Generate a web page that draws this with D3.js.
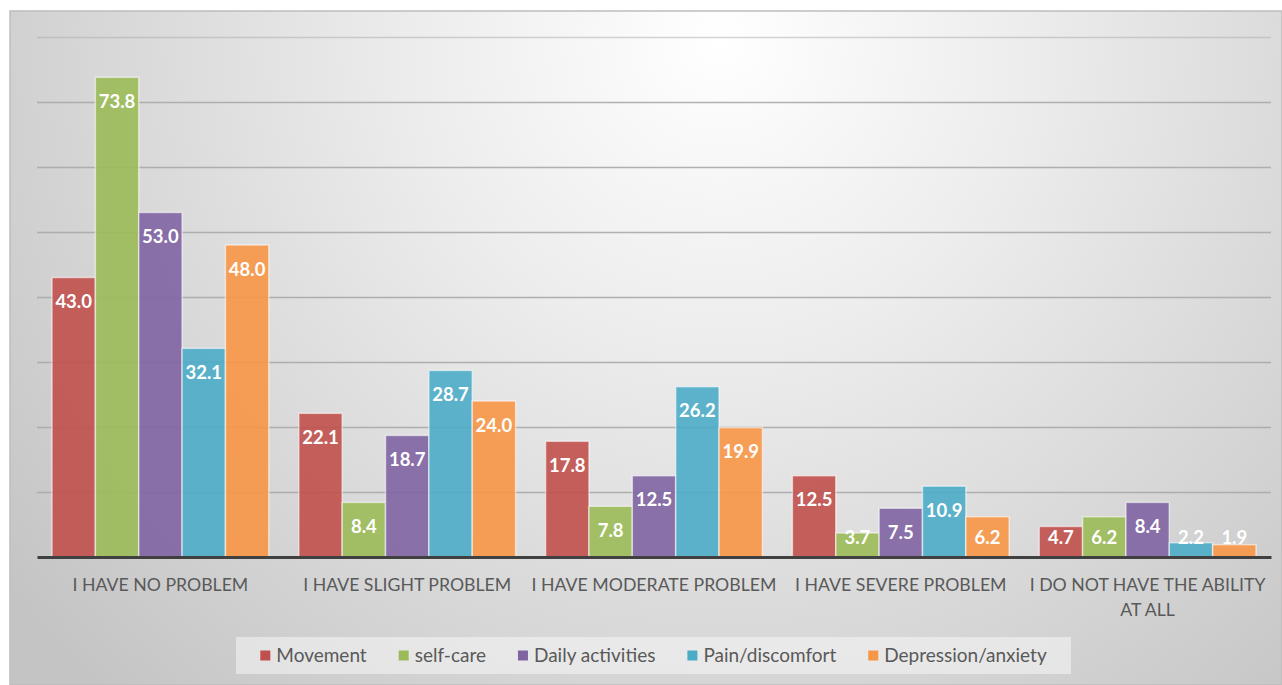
<!DOCTYPE html>
<html><head><meta charset="utf-8">
<script src="https://cdn.jsdelivr.net/npm/d3@7"></script>
<style>
html,body{margin:0;padding:0;background:#fff;}
svg{display:block;}
</style></head>
<body>
<svg id="chart" width="1282" height="685"></svg>
<script>
// ---- data ----
const categories = ["I HAVE NO PROBLEM","I HAVE SLIGHT PROBLEM","I HAVE MODERATE PROBLEM","I HAVE SEVERE PROBLEM","I DO NOT HAVE THE ABILITY AT ALL"];
const seriesNames = ["Movement","self-care","Daily activities","Pain/discomfort","Depression/anxiety"];
const movement   = [43.0, 22.1, 17.8, 12.5, 4.7];
const selfCare   = [73.8, 8.4, 7.8, 3.7, 6.2];
const daily      = [53.0, 18.7, 12.5, 7.5, 8.4];
const pain       = [32.1, 28.7, 26.2, 10.9, 2.2];
const depression = [48.0, 24.0, 19.9, 6.2, 1.9];
const yTicks = [0,10,20,30,40,50,60,70,80];
const colors = ["#c0504d","#9bbb59","#8064a2","#4bacc6","#f79646"];

const seriesValues = [movement, selfCare, daily, pain, depression];
const FONT = "Lato, 'Open Sans', sans-serif";

const svg = d3.select("#chart");
const W = 1282, H = 685;
const plot = {left:37, right:1271, top:37, bottom:557};

// background
const defs = svg.append("defs");
const grad = defs.append("radialGradient").attr("id","bg")
  .attr("gradientUnits","userSpaceOnUse")
  .attr("cx",720).attr("cy",40).attr("r",900)
  .attr("fx",720).attr("fy",40);
grad.append("stop").attr("offset","0%").attr("stop-color","#ffffff");
grad.append("stop").attr("offset","35%").attr("stop-color","#ececec");
grad.append("stop").attr("offset","100%").attr("stop-color","#c4c4c4");

svg.append("rect").attr("x",10).attr("y",11).attr("width",W-10).attr("height",H-11)
  .attr("fill","url(#bg)").attr("stroke","#bdbdbd").attr("stroke-width",1.5);

// scales
const x0 = d3.scaleBand().domain(categories).range([plot.left, plot.right])
  .paddingInner(0.1216).paddingOuter(0.0608);
const x1 = d3.scaleBand().domain(seriesNames).range([0, x0.bandwidth()]).padding(0);
const y = d3.scaleLinear().domain([0,80]).range([plot.bottom, plot.top]);

// gridlines
const gAxisY = svg.append("g").attr("transform",`translate(${plot.left},0)`)
  .call(d3.axisLeft(y).tickValues(yTicks).tickSize(-(plot.right-plot.left)).tickFormat(""));
gAxisY.select(".domain").remove();
gAxisY.selectAll(".tick line").attr("stroke","#a9a9a9").attr("stroke-width",1.6)
  .attr("stroke-opacity",d=> d===80 ? 0.5 : 0.9);
gAxisY.selectAll(".tick").filter(d=>d===0).remove();

// bars
const groups = svg.append("g").selectAll("g").data(categories).join("g")
  .attr("transform", d=>`translate(${x0(d)},0)`);

const barData = (c,ci) => seriesNames.map((s,si)=>({cat:c, series:s, si, v: seriesValues[si][ci]}));

groups.each(function(c,ci){
  const g = d3.select(this);
  const data = barData(c,ci);
  g.selectAll("rect").data(data).join("rect")
    .attr("x", d=>x1(d.series))
    .attr("y", d=>y(d.v))
    .attr("width", x1.bandwidth())
    .attr("height", d=>y(0)-y(d.v))
    .attr("fill", d=>colors[d.si])
    .attr("fill-opacity",0.9)
    .attr("stroke","#ffffff").attr("stroke-opacity",0.55).attr("stroke-width",1.5);
  g.selectAll("text").data(data).join("text")
    .attr("x", d=>x1(d.series)+x1.bandwidth()/2)
    .attr("y", d=>Math.min(y(d.v)+24, y(0)-20))
    .attr("dy","0.36em")
    .attr("text-anchor","middle")
    .attr("font-family",FONT).attr("font-weight","bold").attr("font-size",18.5)
    .attr("fill","#ffffff")
    .text(d=>d.v.toFixed(1));
});

// baseline axis
const gx = svg.append("g").attr("transform",`translate(0,${plot.bottom})`)
  .call(d3.axisBottom(x0).tickSize(0).tickPadding(0));
gx.select(".domain").attr("stroke","#404040").attr("stroke-width",3);
gx.selectAll(".tick text").attr("font-family",FONT).attr("font-size",17.7)
  .attr("fill","#595959").attr("dy",null).attr("y",0);

// wrap labels
gx.selectAll(".tick text").each(function(d){
  const t = d3.select(this);
  const words = d.split(" ");
  t.text(null);
  let line = [], lines = [];
  let tsp = t.append("tspan").attr("x",0);
  words.forEach(w=>{
    line.push(w);
    tsp.text(line.join(" "));
    if (tsp.node().getComputedTextLength() > x0.step()+6 && line.length>1){
      line.pop(); lines.push(line.join(" ")); line=[w]; tsp.text(w);
    }
  });
  lines.push(line.join(" "));
  t.text(null);
  lines.forEach((l,i)=>{
    t.append("tspan").attr("x",0).attr("y",28 + i*25).attr("dy","0.35em").text(l);
  });
});

// legend
const legend = svg.append("g");
const legBox = {x:236, y:637, w:835, h:37};
legend.append("rect").attr("x",legBox.x).attr("y",legBox.y).attr("width",legBox.w).attr("height",legBox.h)
  .attr("fill","#ffffff").attr("fill-opacity",0.45);
const items = legend.selectAll("g.item").data(seriesNames).join("g").attr("class","item");
items.append("rect").attr("width",10).attr("height",10).attr("fill",(d,i)=>colors[i]);
items.append("text").attr("x",16).attr("y",5).attr("dy","0.35em")
  .attr("font-family",FONT).attr("font-size",19).attr("fill","#595959").text(d=>d);
const widths = [];
items.each(function(){ widths.push(16 + d3.select(this).select("text").node().getComputedTextLength()); });
const gap = 32;
const total = d3.sum(widths) + gap*(widths.length-1);
let cx = legBox.x + (legBox.w - total)/2;
items.each(function(d,i){
  d3.select(this).attr("transform",`translate(${cx},${legBox.y + legBox.h/2 - 5})`);
  cx += widths[i] + gap;
});
</script>
</body></html>
